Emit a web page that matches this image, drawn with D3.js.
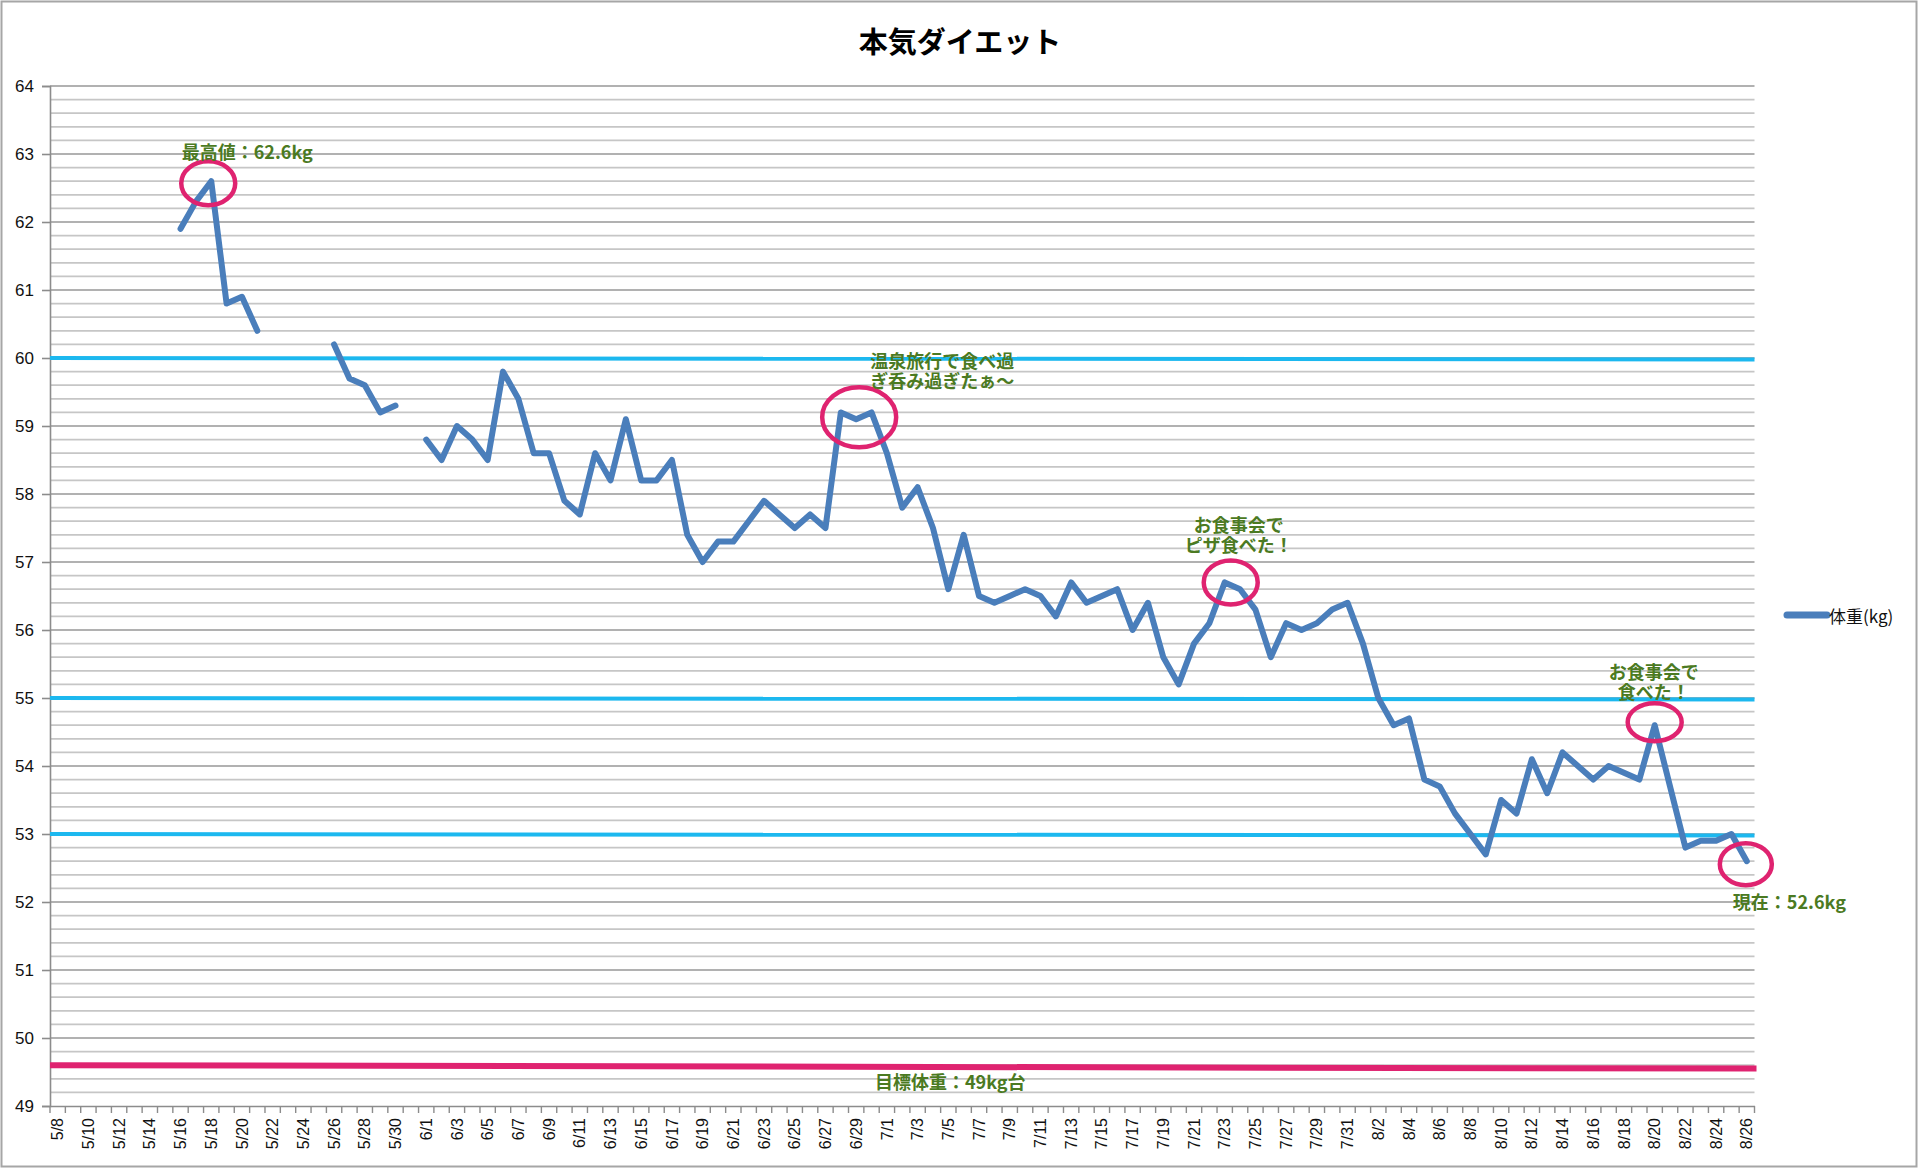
<!DOCTYPE html>
<html>
<head>
<meta charset="utf-8">
<script src="https://cdn.jsdelivr.net/npm/d3@7"></script>
<style>
  html, body { margin: 0; padding: 0; background: #fff; }
  svg { display: block; }
  text { font-family: "Noto Sans CJK JP", "Noto Sans", sans-serif; }
</style>
</head>
<body>
<div id="chart"></div>
<script>
// === DATA ===
// months shown on the category axis: [month, first day, last day]
const monthSpans = [[5, 8, 31], [6, 1, 30], [7, 1, 31], [8, 1, 26]];
const dates = [];
monthSpans.forEach(([m, a, b]) => { for (let d = a; d <= b; d++) dates.push(`${m}/${d}`); });

// body weight (kg) per day, null = not measured
const weights = [
  null, null, null, null, null, null, null, null,      // 5/8 - 5/15
  61.9, 62.3, 62.6, 60.8, 60.9, 60.4,                  // 5/16 - 5/21
  null, null, null, null,                              // 5/22 - 5/25
  60.2, 59.7, 59.6, 59.2, 59.3, null,                  // 5/26 - 5/31
  58.8, 58.5, 59.0, 58.8, 58.5, 59.8, 59.4, 58.6, 58.6, 57.9,   // 6/1 - 6/10
  57.7, 58.6, 58.2, 59.1, 58.2, 58.2, 58.5, 57.4, 57.0, 57.3,   // 6/11 - 6/20
  57.3, 57.6, 57.9, 57.7, 57.5, 57.7, 57.5, 59.2, 59.1, 59.2,   // 6/21 - 6/30
  58.6, 57.8, 58.1, 57.5, 56.6, 57.4, 56.5, 56.4, 56.5, 56.6,   // 7/1 - 7/10
  56.5, 56.2, 56.7, 56.4, 56.5, 56.6, 56.0, 56.4, 55.6, 55.2,   // 7/11 - 7/20
  55.8, 56.1, 56.7, 56.6, 56.3, 55.6, 56.1, 56.0, 56.1, 56.3,   // 7/21 - 7/30
  56.4,                                                          // 7/31
  55.8, 55.0, 54.6, 54.7, 53.8, 53.7, 53.3, 53.0, 52.7, 53.5,   // 8/1 - 8/10
  53.3, 54.1, 53.6, 54.2, 54.0, 53.8, 54.0, 53.9, 53.8, 54.6,   // 8/11 - 8/20
  53.7, 52.8, 52.9, 52.9, 53.0, 52.6                             // 8/21 - 8/26
];

const seriesName = "体重(kg)";
const chartTitle = "本気ダイエット";
const yTicks = [49, 50, 51, 52, 53, 54, 55, 56, 57, 58, 59, 60, 61, 62, 63, 64];
const stepLevels = [60, 55, 53];          // milestone lines
const goalLevel = [49.6, 49.55];          // goal line (left end, right end)
const goalLabel = "目標体重：49kg台";

// annotated points
const notes = [
  { date: "5/18", lines: ["最高値：62.6kg"] },
  { date: "6/29", lines: ["温泉旅行で食べ過", "ぎ呑み過ぎたぁ〜"] },
  { date: "7/23", lines: ["お食事会で", "ピザ食べた！"] },
  { date: "8/20", lines: ["お食事会で", "食べた！"] },
  { date: "8/26", lines: ["現在：52.6kg"] }
];
// placement of circles / labels relative to the point (px)
const noteStyle = [
  { cx: -3, cy: 2,  rx: 27, ry: 22, lx: 36,  ly: -30, anchor: "middle" },
  { cx: 3,  cy: -2, rx: 37, ry: 30, lx: 86,  ly: -59, anchor: "middle" },
  { cx: 6,  cy: 0,  rx: 27, ry: 22, lx: 14,  ly: -58, anchor: "middle" },
  { cx: 0,  cy: -3, rx: 27, ry: 19, lx: -1,  ly: -54, anchor: "middle" },
  { cx: -1, cy: 3,  rx: 26, ry: 21, lx: -14, ly: 40,  anchor: "start" }
];

// === LAYOUT ===
const W = 1920, H = 1168;
const plot = { left: 50, right: 1754.5, top: 86, bottom: 1106 };
const green = "#4b7a22";
const pink = "#df2370";

const svg = d3.select("#chart").append("svg")
  .attr("width", W).attr("height", H);

svg.append("rect")
  .attr("x", 1.5).attr("y", 1.5)
  .attr("width", W - 5).attr("height", H - 3)
  .attr("fill", "#fff").attr("stroke", "#a6a6a6").attr("stroke-width", 2);

const x = d3.scaleBand().domain(dates).range([plot.left, plot.right]).padding(0);
const y = d3.scaleLinear().domain([49, 64]).range([plot.bottom, plot.top]);
const cx = d => x(d) + x.bandwidth() / 2;

// === GRID ===
const minor = d3.range(49, 64.001, 0.2).map(v => +v.toFixed(1)).filter(v => !Number.isInteger(v));
svg.append("g").selectAll("line").data(minor).join("line")
  .attr("x1", plot.left).attr("x2", plot.right)
  .attr("y1", d => y(d)).attr("y2", d => y(d))
  .attr("stroke", "#c6c6c6").attr("stroke-width", 1.7);

svg.append("g").selectAll("line").data(yTicks.slice(1)).join("line")
  .attr("x1", plot.left).attr("x2", plot.right)
  .attr("y1", d => y(d)).attr("y2", d => y(d))
  .attr("stroke", "#979797").attr("stroke-width", 1.7);

// === AXES ===
const yAxis = svg.append("g")
  .attr("transform", `translate(${plot.left},0)`)
  .call(d3.axisLeft(y).tickValues(yTicks).tickSize(8).tickPadding(8).tickFormat(d3.format("d")));
yAxis.select(".domain").attr("stroke", "#8c8c8c").attr("stroke-width", 1.6);
yAxis.selectAll(".tick line").attr("stroke", "#8c8c8c").attr("stroke-width", 1.6);
yAxis.selectAll(".tick text")
  .attr("font-size", 17).attr("fill", "#111")
  .style("font-family", "'Liberation Sans', Arial, sans-serif");

const xAxis = svg.append("g")
  .attr("transform", `translate(0,${plot.bottom})`)
  .call(d3.axisBottom(x).tickValues(dates.filter((d, i) => i % 2 === 0)).tickSize(0).tickPadding(0));
xAxis.select(".domain").attr("stroke", "#8c8c8c").attr("stroke-width", 1.6);
xAxis.selectAll(".tick text")
  .attr("font-size", 16).attr("fill", "#111")
  .style("font-family", "'Liberation Sans', Arial, sans-serif")
  .attr("text-anchor", "end")
  .attr("dy", "0.35em")
  .attr("transform", "translate(0,12) rotate(-90)");

// boundary tick marks between categories (Excel style)
svg.append("g").selectAll("line").data(dates.concat(["end"])).join("line")
  .attr("x1", d => d === "end" ? plot.right : x(d))
  .attr("x2", d => d === "end" ? plot.right : x(d))
  .attr("y1", plot.bottom).attr("y2", plot.bottom + 7)
  .attr("stroke", "#8c8c8c").attr("stroke-width", 1.4);

// === REFERENCE LINES ===
svg.append("g").selectAll("line").data(stepLevels).join("line")
  .attr("x1", plot.left).attr("x2", plot.right)
  .attr("y1", d => y(d)).attr("y2", d => y(d) + 1.5)
  .attr("stroke", "#1cb8ef").attr("stroke-width", 4);

svg.append("line")
  .attr("x1", plot.left).attr("x2", plot.right + 2)
  .attr("y1", y(goalLevel[0])).attr("y2", y(goalLevel[1]))
  .attr("stroke", pink).attr("stroke-width", 6);

svg.append("text")
  .attr("x", (plot.left + plot.right) / 2 + 48)
  .attr("y", y(goalLevel[0]) + 24)
  .attr("text-anchor", "middle")
  .attr("font-size", 18).attr("font-weight", 700).attr("fill", green)
  .text(goalLabel);

// === SERIES ===
const series = dates.map((d, i) => ({ date: d, value: weights[i] }));
const line = d3.line()
  .defined(d => d.value != null)
  .x(d => cx(d.date))
  .y(d => y(d.value));

svg.append("path")
  .datum(series)
  .attr("d", line)
  .attr("fill", "none")
  .attr("stroke", "#4a7ebb")
  .attr("stroke-width", 6)
  .attr("stroke-linejoin", "round")
  .attr("stroke-linecap", "round");

// === ANNOTATIONS ===
notes.forEach((n, i) => {
  const s = noteStyle[i];
  const v = weights[dates.indexOf(n.date)];
  const px = cx(n.date), py = y(v);
  svg.append("ellipse")
    .attr("cx", px + s.cx).attr("cy", py + s.cy)
    .attr("rx", s.rx).attr("ry", s.ry)
    .attr("fill", "none").attr("stroke", pink).attr("stroke-width", 4.5);
  const t = svg.append("text")
    .attr("text-anchor", s.anchor)
    .attr("font-size", 18).attr("font-weight", 700).attr("fill", green)
    .attr("dominant-baseline", "central");
  n.lines.forEach((ln, k) => {
    t.append("tspan")
      .attr("x", px + s.lx)
      .attr("y", py + s.ly + k * 20)
      .text(ln);
  });
});

// === TITLE ===
svg.append("text")
  .attr("x", W / 2).attr("y", 40)
  .attr("text-anchor", "middle").attr("dominant-baseline", "central")
  .attr("font-size", 29).attr("font-weight", 700).attr("fill", "#000")
  .text(chartTitle);

// === LEGEND ===
const lg = svg.append("g").attr("transform", "translate(1787,615)");
lg.append("line")
  .attr("x1", 0).attr("x2", 40).attr("y1", 0).attr("y2", 0)
  .attr("stroke", "#4a7ebb").attr("stroke-width", 7).attr("stroke-linecap", "round");
lg.append("text")
  .attr("x", 42).attr("y", 0)
  .attr("dominant-baseline", "central")
  .attr("font-size", 17).attr("fill", "#111")
  .text(seriesName);
</script>
</body>
</html>
